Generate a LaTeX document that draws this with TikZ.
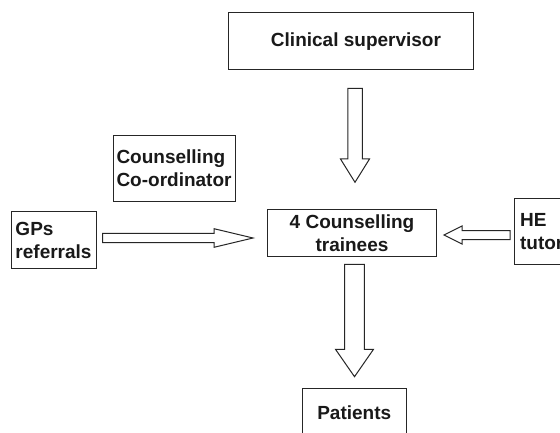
\documentclass[tikz,border=0pt]{standalone}
\usepackage{fontspec}
\setmainfont{Liberation Sans}
\usetikzlibrary{calc}
% block arrows: #1 start coordinate, #2 tip coordinate, #3 shaft half width, #4 head half width, #5 head length
\newcommand\blkdown[5]{\draw[blk] let \p1=(#1), \p2=(#2) in
 (\x1-#3pt,\y1) -- (\x1+#3pt,\y1) -- (\x1+#3pt,\y2+#5pt) -- (\x1+#4pt,\y2+#5pt) -- (\x1,\y2)
 -- (\x1-#4pt,\y2+#5pt) -- (\x1-#3pt,\y2+#5pt) -- cycle;}
\newcommand\blkright[5]{\draw[blk] let \p1=(#1), \p2=(#2) in
 (\x1,\y1+#3pt) -- (\x2-#5pt,\y1+#3pt) -- (\x2-#5pt,\y1+#4pt) -- (\x2,\y1)
 -- (\x2-#5pt,\y1-#4pt) -- (\x2-#5pt,\y1-#3pt) -- (\x1,\y1-#3pt) -- cycle;}
\newcommand\blkleft[5]{\draw[blk] let \p1=(#1), \p2=(#2) in
 (\x1,\y1+#3pt) -- (\x2+#5pt,\y1+#3pt) -- (\x2+#5pt,\y1+#4pt) -- (\x2,\y1)
 -- (\x2+#5pt,\y1-#4pt) -- (\x2+#5pt,\y1-#3pt) -- (\x1,\y1-#3pt) -- cycle;}
\begin{document}
\begin{tikzpicture}[x=1pt,y=-1pt,
  box/.style={draw=black!85, line width=1pt, inner sep=0pt,
    font=\fontsize{19}{23}\selectfont\bfseries, text=black!90},
  blk/.style={draw=black!85, line width=1pt, fill=white, line join=miter}]
\useasboundingbox (0,0) rectangle (560,433);
\clip (0,0) rectangle (560,433);
\fill[white] (0,0) rectangle (560,433);

\node[box, minimum width=245, minimum height=56.7] (cs) at (350.5,41.3) {\hspace*{11pt}Clinical supervisor};
\node[box, anchor=west, text width=115.5, inner xsep=3.5pt, minimum height=66.3, align=left] (co) at (112.5,168.2) {Counselling\\Co-ordinator};
\node[box, anchor=west, text width=76.4, inner xsep=4.3pt, minimum height=56.7, align=left] (gp) at (10.7,240.3) {GPs\\referrals};
\node[box, minimum width=169, minimum height=47.3, align=center] (tr) at (352,233.3) {4 Counselling\\trainees};
\node[box, anchor=west, text width=50, inner xsep=6pt, minimum height=65.7, align=left] (he) at (513.6,231.8) {HE\\tutor};
\node[box, minimum width=103.5, minimum height=48] (pt) at (354.25,412.7) {Patients};

\coordinate (a1s) at (355,88.3);   \coordinate (a1e) at (355,182.3);
\coordinate (a2s) at (354.5,264.3); \coordinate (a2e) at (354.5,376.7);
\coordinate (a3s) at (102.5,238);  \coordinate (a3e) at (253,238);
\coordinate (a4s) at (510,235);    \coordinate (a4e) at (444,235);

\blkdown{a1s}{a1e}{7.25}{14.5}{23.3}
\blkdown{a2s}{a2e}{9.85}{19}{27.4}
\blkright{a3s}{a3e}{4.7}{9.3}{39}
\blkleft{a4s}{a4e}{4.5}{9}{18}
\end{tikzpicture}
\end{document}
